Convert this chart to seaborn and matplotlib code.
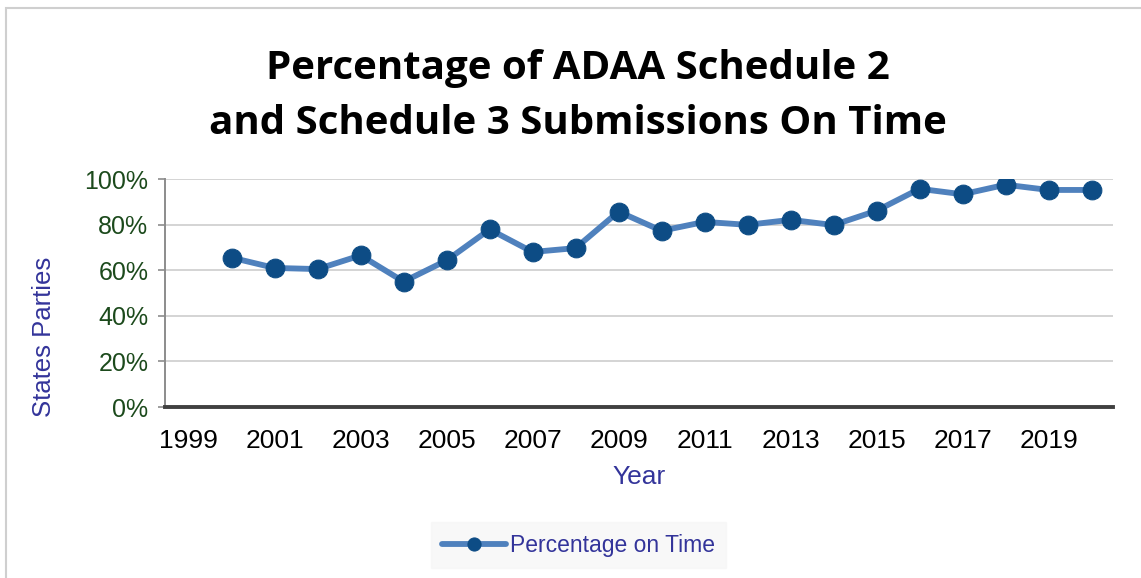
import matplotlib
matplotlib.use("Agg")
import matplotlib.pyplot as plt
from matplotlib.patches import Rectangle
from matplotlib.ticker import PercentFormatter
import seaborn as sns

# values
years = [2000, 2001, 2002, 2003, 2004, 2005, 2006, 2007, 2008, 2009, 2010,
         2011, 2012, 2013, 2014, 2015, 2016, 2017, 2018, 2019, 2020]
pct_on_time = [0.655, 0.61, 0.605, 0.665, 0.55, 0.643, 0.779, 0.68, 0.697, 0.857, 0.773,
               0.812, 0.799, 0.821, 0.798, 0.861, 0.957, 0.933, 0.975, 0.952, 0.952]
x_ticks = list(range(1999, 2020, 2))
y_ticks = [0, 0.2, 0.4, 0.6, 0.8, 1.0]
title_lines = ['Percentage of ADAA Schedule 2', 'and Schedule 3 Submissions On Time']

sns.set_theme(style="white")
plt.rcParams['font.family'] = ['Liberation Sans', 'DejaVu Sans']

label_color = '#33349a'
tick_color = '#1c4a1c'

fig = plt.figure(figsize=(11.41, 5.78), dpi=100)
ax = fig.add_axes([0.1446, 0.2958, 0.8309, 0.3945])

sns.lineplot(x=years, y=pct_on_time, ax=ax, color='#4f81bd', linewidth=4.2,
             marker='o', markersize=13.5, markerfacecolor='#0d4c85',
             markeredgecolor='#0d4c85', label='Percentage on Time')

ax.set_xlim(1998.45, 2020.5)
ax.set_ylim(0, 1.0)
ax.set_xticks(x_ticks)
ax.set_yticks(y_ticks)
ax.yaxis.set_major_formatter(PercentFormatter(1.0, decimals=0))
ax.grid(axis='y', color='#d4d4d4', linewidth=1.4)
ax.grid(axis='x', visible=False)

for side in ['top', 'right']:
    ax.spines[side].set_visible(False)
ax.spines['left'].set_color('#8c8c8c')
ax.spines['left'].set_linewidth(1.4)
ax.spines['bottom'].set_color('#404040')
ax.spines['bottom'].set_linewidth(2.8)

ax.tick_params(axis='y', which='major', left=True, length=5, width=1.2,
               color='#8c8c8c', pad=7, labelsize=18, labelcolor=tick_color)
ax.tick_params(axis='x', which='major', bottom=False, pad=10,
               labelsize=19, labelcolor='black')

ax.set_xlabel('Year', fontsize=19, color=label_color)
ax.set_ylabel('States Parties', fontsize=18.5, color=label_color)
ax.xaxis.set_label_coords(0.5, -0.307)
ax.xaxis.label.set_verticalalignment('center')
ax.yaxis.set_label_coords(-0.128, 0.307)
ax.yaxis.label.set_verticalalignment('center')

ax.get_legend().remove()
handles, labels = ax.get_legend_handles_labels()
leg = fig.legend(handles, labels, loc='center', bbox_to_anchor=(0.507, 0.057),
                 frameon=True, fancybox=False, fontsize=16.5, handlelength=2.8,
                 borderpad=0.5, borderaxespad=0, handletextpad=0.15,
                 markerscale=0.7)
leg.get_frame().set_facecolor('#f7f7f7')
leg.get_frame().set_edgecolor('#f7f7f7')
for t in leg.get_texts():
    t.set_color(label_color)

for line, ypos in zip(title_lines, [0.8633, 0.7682]):
    fig.text(0.5066, ypos, line, ha='center', va='baseline', fontsize=29,
             fontweight='bold', family=['Open Sans', 'DejaVu Sans'], color='black')

# light frame around the chart area, cut off at right and bottom like the source
fig.patches.append(Rectangle((6 / 1141, -0.1), 1.5, 1.1 - 8 / 578,
                             transform=fig.transFigure, fill=False,
                             edgecolor='#cfcfcf', linewidth=1.5))

fig.savefig('out.png', dpi=100)
